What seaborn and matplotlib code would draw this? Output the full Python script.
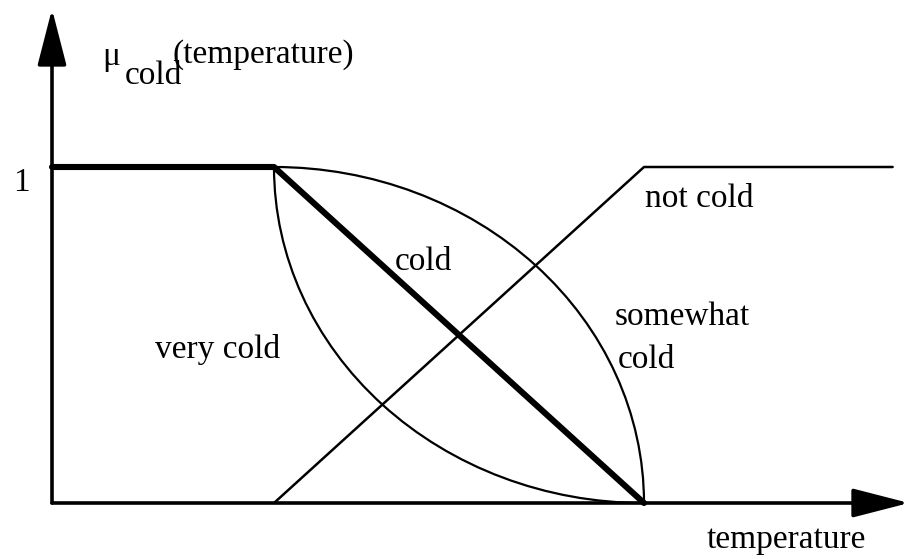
import numpy as np
import pandas as pd
import seaborn as sns
import matplotlib
matplotlib.use("Agg")
import matplotlib.pyplot as plt
from matplotlib.patches import Arc

# datos de las funciones de pertenencia
temp_cold = [0, 3, 8]
mu_cold = [1, 1, 0]
temp_not_cold = [3, 8, 11.36]
mu_not_cold = [0, 1, 1]
# arcos: esquina inicial y final de "very cold" / "somewhat cold"
arco_ini = 3
arco_fin = 8

W, H = 905, 559
PX_X = 74.0   # pixeles por unidad en x
PX_Y = 336.0  # pixeles por unidad en y
X0, Y0 = 52, 503


def crea_fig():
    sns.set_theme(style="white")
    plt.rcParams['font.family'] = ['Liberation Serif', 'DejaVu Serif']
    fig = plt.figure(figsize=(W / 100, H / 100), dpi=100)
    ax = fig.add_axes([0, 0, 1, 1])
    ax.set_xlim(-X0 / PX_X, (W - X0) / PX_X)
    ax.set_ylim(-(H - Y0) / PX_Y, Y0 / PX_Y)
    ax.axis('off')
    return fig, ax


def graficar(fig, ax):
    df_cold = pd.DataFrame({'temp': temp_cold, 'mu': mu_cold})
    df_not = pd.DataFrame({'temp': temp_not_cold, 'mu': mu_not_cold})

    sns.lineplot(data=df_not, x='temp', y='mu', sort=False, color='black',
                 lw=1.8, ax=ax)

    ancho = 2 * (arco_fin - arco_ini)
    # somewhat cold (raiz) -> arco por encima
    ax.add_patch(Arc((arco_ini, 0), ancho, 2, theta1=0, theta2=90,
                     color='black', lw=1.6))
    # very cold (cuadrado) -> arco por debajo
    ax.add_patch(Arc((arco_fin, 1), ancho, 2, theta1=180, theta2=270,
                     color='black', lw=1.6))

    sns.lineplot(data=df_cold, x='temp', y='mu', sort=False, color='black',
                 lw=4.4, ax=ax)

    # ejes con flechas
    top = (Y0 - 9) / PX_Y
    right = (W + 4 - X0) / PX_X
    estilo = dict(arrowstyle='-|>,head_length=35,head_width=9',
                  mutation_scale=1, lw=2.6, color='black',
                  shrinkA=0, shrinkB=0)
    ax.annotate('', xy=(0, top), xytext=(0, 0), arrowprops=estilo,
                annotation_clip=False)
    ax.annotate('', xy=(right, 0), xytext=(0, 0), arrowprops=estilo,
                annotation_clip=False)

    def texto(x, y, s):
        fig.text(x / W, 1 - y / H, s, ha='left', va='baseline',
                 fontsize=24, color='black')

    texto(13, 191, '1')
    texto(102, 65, 'μ')
    texto(125, 84, 'cold')
    texto(172, 63, '(temperature)')
    texto(395, 270, 'cold')
    texto(645, 207, 'not cold')
    texto(615, 325, 'somewhat')
    texto(618, 368, 'cold')
    texto(155, 358, 'very cold')
    texto(707, 548, 'temperature')

    fig.savefig('out.png', dpi=100)


if __name__ == "__main__":
    fig, ax = crea_fig()
    graficar(fig, ax)
